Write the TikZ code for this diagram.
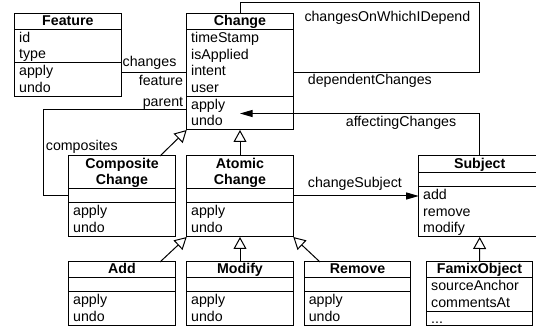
\documentclass[tikz,border=0pt]{standalone}
\usepackage{fontspec}
\setmainfont{Liberation Sans}
\usepackage{tikz}
\usetikzlibrary{calc,arrows.meta}
\setlength{\parindent}{0pt}
\newcommand{\rs}{\rule[-4.2pt]{0pt}{16.5pt}}
\newcommand{\ts}{\rule[-3.5pt]{0pt}{15pt}}
\tikzset{
  cls/.style={draw, line width=1pt, outer sep=0pt, inner xsep=4.5pt, inner ysep=0pt,
    anchor=north west, align=left, font=\fontsize{14.2}{16.5}\selectfont},
  ttl/.style={cls, align=center, font=\fontsize{14.2}{16.5}\selectfont\bfseries},
  assoc/.style={draw, line width=1pt},
  nav/.style={assoc, -{Triangle[length=12.5pt,width=7pt]}},
  inh/.style={assoc, -{Triangle[open,length=12pt,width=13pt]}},
  lbl/.style={inner sep=0pt, anchor=base west, font=\fontsize{14.2}{16.5}\selectfont}
}

\begin{document}
\begin{tikzpicture}[x=1pt,y=-1pt]
  \useasboundingbox (0,0) rectangle (536,331);

  % classes
  \node[ttl, text width=97.3pt, minimum height=16pt] (featT) at (14.7,14) {\ts Feature};
  \node[cls, text width=97.3pt, minimum height=33pt] (featA) at (featT.south west) {\rs id\\type\rs};
  \node[cls, text width=97.3pt, minimum height=34pt] (featO) at (featA.south west) {\rs apply\\undo\rs};

  \node[ttl, text width=97.6pt, minimum height=16pt] (chgT) at (186.7,14) {\ts Change};
  \node[cls, text width=97.6pt, minimum height=67pt] (chgA) at (chgT.south west) {\rs timeStamp\\isApplied\\intent\\user\rs};
  \node[cls, text width=97.6pt, minimum height=33pt] (chgO) at (chgA.south west) {\rs apply\\undo\rs};

  \node[ttl, text width=97.6pt, minimum height=33pt] (compT) at (68.7,156) {\rs Composite\\Change\rs};
  \node[cls, text width=97.6pt, minimum height=14pt] (compE) at (compT.south west) {};
  \node[cls, text width=97.6pt, minimum height=34pt] (compO) at (compE.south west) {\rs apply\\undo\rs};

  \node[ttl, text width=97.6pt, minimum height=33pt] (atomT) at (186.7,156) {\rs Atomic\\Change\rs};
  \node[cls, text width=97.6pt, minimum height=14pt] (atomE) at (atomT.south west) {};
  \node[cls, text width=97.6pt, minimum height=34pt] (atomO) at (atomE.south west) {\rs apply\\undo\rs};

  \node[ttl, text width=113pt, minimum height=17pt] (subT) at (418.7,156) {\ts Subject};
  \node[cls, text width=113pt, minimum height=14pt] (subE) at (subT.south west) {};
  \node[cls, text width=113pt, minimum height=50pt] (subO) at (subE.south west) {\rs add\\remove\\modify\rs};

  \node[ttl, text width=97.6pt, minimum height=16pt] (addT) at (68.7,262) {\ts Add};
  \node[cls, text width=97.6pt, minimum height=14pt] (addE) at (addT.south west) {};
  \node[cls, text width=97.6pt, minimum height=34pt] (addO) at (addE.south west) {\rs apply\\undo\rs};

  \node[ttl, text width=97.6pt, minimum height=16pt] (modT) at (186.7,262) {\ts Modify};
  \node[cls, text width=97.6pt, minimum height=14pt] (modE) at (modT.south west) {};
  \node[cls, text width=97.6pt, minimum height=34pt] (modO) at (modE.south west) {\rs apply\\undo\rs};

  \node[ttl, text width=97.6pt, minimum height=16pt] (remT) at (304.3,262) {\ts Remove};
  \node[cls, text width=97.6pt, minimum height=14pt] (remE) at (remT.south west) {};
  \node[cls, text width=97.6pt, minimum height=34pt] (remO) at (remE.south west) {\rs apply\\undo\rs};

  \node[ttl, text width=96.6pt, minimum height=16pt] (famT) at (426.7,262) {\ts FamixObject};
  \node[cls, text width=96.6pt, minimum height=33.5pt] (famA) at (famT.south west) {\rs sourceAnchor\\commentsAt\rs};
  \node[cls, text width=96.6pt, minimum height=14.5pt] (famO) at (famA.south west) {\rule{0pt}{9pt}...};

  % associations
  \coordinate (fc) at ($(featO.north east)+(0,10)$);
  \draw[assoc] (fc) -- (fc -| chgA.west);
  \node[lbl] (lChanges) at (122.5,66.7) {changes};
  \node[lbl, anchor=base east] (lFeature) at (183.3,86) {feature};

  \coordinate (pc) at ($(chgO.north west)+(0,12.3)$);
  \draw[assoc] (pc) -| ($(compE.west)+(-25,0)$) -- (compE.west);
  \node[lbl, anchor=base east] (lParent) at (183.3,106.3) {parent};
  \node[lbl] (lComposites) at (45.7,150.7) {composites};

  \coordinate (sc) at (479,3);
  \draw[assoc] (chgT.north) |- (sc) |- (fc -| chgA.east);
  \node[lbl] (lOnWhich) at (304.3,21.7) {changesOnWhichIDepend};
  \node[lbl] (lDependent) at (307.7,85) {dependentChanges};

  \draw[nav] (subT.north) |- (chgO.center);
  \node[lbl] (lAffecting) at (345.7,126.7) {affectingChanges};

  \draw[nav] (atomE.east) -- (atomE.east -| subO.west);
  \node[lbl] (lSubject) at (307.7,187.3) {changeSubject};

  % generalizations
  \draw[inh] ($(compT.north east)+(-15.3,0)$) -- (chgO.south west);
  \draw[inh] (atomT.north) -- (chgO.south);
  \draw[inh] ($(addT.north east)+(-15.3,0)$) -- (atomO.south west);
  \draw[inh] (modT.north) -- (atomO.south);
  \draw[inh] ($(remT.north west)+(15.7,0)$) -- (atomO.south east);
  \draw[inh] (famT.north) -- (subO.south);
\end{tikzpicture}
\end{document}
